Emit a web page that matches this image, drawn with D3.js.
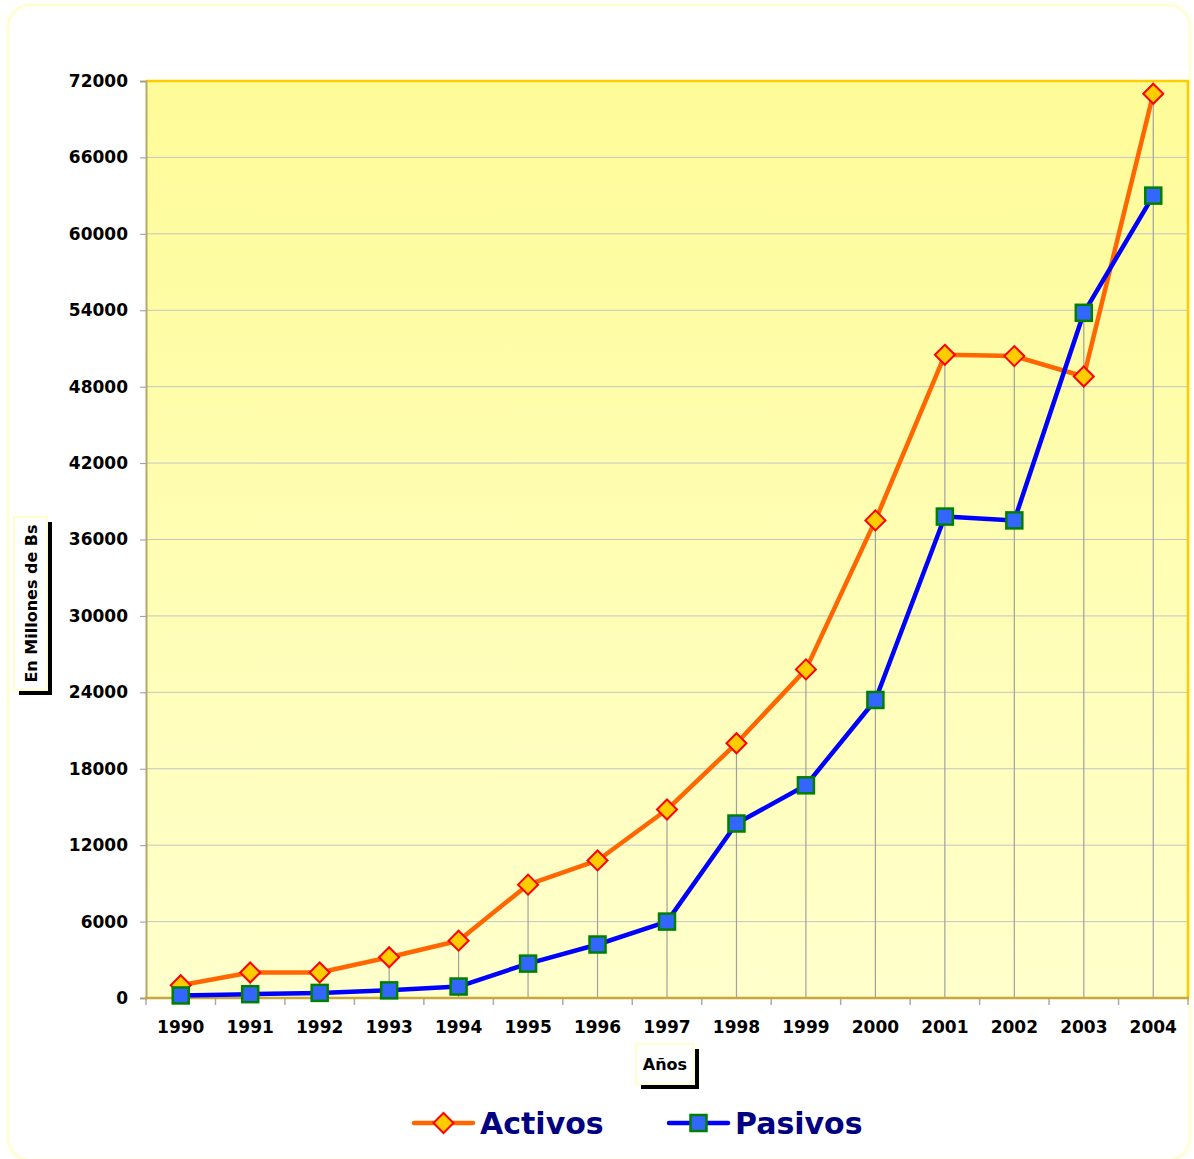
<!DOCTYPE html>
<html><head><meta charset="utf-8">
<script src="https://cdnjs.cloudflare.com/ajax/libs/d3/7.8.5/d3.min.js"></script>
<style>html,body{margin:0;padding:0;background:#fff;}svg{display:block;}</style>
</head><body>
<script>
const years = ["1990","1991","1992","1993","1994","1995","1996","1997","1998","1999","2000","2001","2002","2003","2004"];
const activos = [1000,2000,2000,3200,4500,8900,10800,14800,20000,25800,37500,50500,50400,48800,71000];
const pasivos = [200,300,400,600,900,2700,4200,6000,13700,16700,23400,37800,37500,53800,63000];
const yTicks = [0,6000,12000,18000,24000,30000,36000,42000,48000,54000,60000,66000,72000];
const seriesNames = ["Activos","Pasivos"];

const W=1194,H=1159;
const svg=d3.select("body").append("svg").attr("width",W).attr("height",H);
const font="'DejaVu Sans', Verdana, sans-serif";

// outer frame
svg.append("rect").attr("x",8).attr("y",5).attr("width",1182).attr("height",1155)
  .attr("rx",22).attr("fill","#fff").attr("stroke","#ffffcc").attr("stroke-width",2.5);

const L=146,R=1188,T=81,B=998;
const x=d3.scaleBand().domain(years).range([L,R]);
const y=d3.scaleLinear().domain([0,72000]).range([B,T]);

const defs=svg.append("defs");
const g=defs.append("linearGradient").attr("id","bg").attr("x1",0).attr("y1",0).attr("x2",0).attr("y2",1);
g.append("stop").attr("offset","0%").attr("stop-color","#fefc98");
g.append("stop").attr("offset","100%").attr("stop-color","#ffffcc");

svg.append("rect").attr("x",L).attr("y",T).attr("width",R-L).attr("height",B-T).attr("fill","url(#bg)");

// gridlines
svg.append("g").selectAll("line").data(yTicks.filter(d=>d>0)).join("line")
  .attr("x1",L).attr("x2",R).attr("y1",d=>y(d)).attr("y2",d=>y(d))
  .attr("stroke","#c4c4c4").attr("stroke-width",1);

// border top/right
svg.append("line").attr("x1",L).attr("x2",R+1).attr("y1",T).attr("y2",T).attr("stroke","#ffcc00").attr("stroke-width",2.5);
svg.append("line").attr("x1",R).attr("x2",R).attr("y1",T).attr("y2",B).attr("stroke","#ffcc00").attr("stroke-width",2.5);

// drop lines
const maxV=years.map((d,i)=>Math.max(activos[i],pasivos[i]));
svg.append("g").selectAll("line").data(years).join("line")
  .attr("x1",d=>x(d)+x.bandwidth()/2).attr("x2",d=>x(d)+x.bandwidth()/2)
  .attr("y1",(d,i)=>y(maxV[i])).attr("y2",B)
  .attr("stroke","#a0a0a0").attr("stroke-width",1.2);

// y axis
const yAxis=svg.append("g").attr("transform",`translate(${L},0)`)
  .call(d3.axisLeft(y).tickValues(yTicks).tickSize(6).tickPadding(12).tickFormat(d3.format("d")));
yAxis.select(".domain").attr("stroke","#b8a868").attr("stroke-width",2);
yAxis.selectAll(".tick line").attr("stroke","#999");
yAxis.selectAll("text").attr("font-family",font).attr("font-weight","bold").attr("font-size",17).attr("fill","#000");

// x axis
const xAxis=svg.append("g").attr("transform",`translate(0,${B})`)
  .call(d3.axisBottom(x).tickSize(0).tickPadding(23));
xAxis.select(".domain").remove();
xAxis.selectAll("text").attr("font-family",font).attr("font-weight","bold").attr("font-size",17).attr("fill","#000");
const bounds=years.map(d=>x(d)).concat([R]);
svg.append("g").selectAll("line").data(bounds).join("line")
  .attr("x1",d=>d).attr("x2",d=>d).attr("y1",B).attr("y2",B+7).attr("stroke","#aaa").attr("stroke-width",1.5);
svg.append("line").attr("x1",L-1).attr("x2",R+1).attr("y1",B).attr("y2",B).attr("stroke","#c8a838").attr("stroke-width",2.5);

const cx=d=>x(d)+x.bandwidth()/2;
const line=d3.line().x((d,i)=>cx(years[i])).y(d=>y(d));

svg.append("path").datum(activos).attr("d",line).attr("fill","none").attr("stroke","#ff6600").attr("stroke-width",4.5).attr("stroke-linejoin","round");
svg.append("path").datum(pasivos).attr("d",line).attr("fill","none").attr("stroke","#0000ff").attr("stroke-width",4.5).attr("stroke-linejoin","round");

const diamond=(s)=>`M0,${-s}L${s},0L0,${s}L${-s},0Z`;
svg.append("g").selectAll("path").data(activos).join("path")
  .attr("d",diamond(10)).attr("transform",(d,i)=>`translate(${cx(years[i])},${y(d)})`)
  .attr("fill","#ffcc00").attr("stroke","#ff0000").attr("stroke-width",2);
svg.append("g").selectAll("rect").data(pasivos).join("rect")
  .attr("x",(d,i)=>cx(years[i])-8).attr("y",d=>y(d)-8).attr("width",16).attr("height",16)
  .attr("fill","#3366ff").attr("stroke","#008000").attr("stroke-width",2.5);

// axis title boxes
function titleBox(bx,by,bw,bh,text,rot){
  svg.append("rect").attr("x",bx+5).attr("y",by+5).attr("width",bw).attr("height",bh).attr("fill","#000");
  svg.append("rect").attr("x",bx).attr("y",by).attr("width",bw).attr("height",bh).attr("fill","#fff").attr("stroke","#ffffcc").attr("stroke-width",2);
  const t=svg.append("text").attr("font-family",font).attr("font-weight","bold").attr("font-size",16)
    .attr("fill","#000").attr("text-anchor","middle").attr("dominant-baseline","central").text(text);
  if(rot) t.attr("transform",`translate(${bx+bw/2+1},${by+bh/2}) rotate(-90)`);
  else t.attr("x",bx+bw/2).attr("y",by+bh/2);
}
titleBox(14,517,33,173,"En Millones de Bs",true);
titleBox(636,1044,58,40,"Años",false);

// legend
const leg=[{name:seriesNames[0],x0:414,col:"#ff6600",type:"d"},{name:seriesNames[1],x0:669,col:"#0000ff",type:"s"}];
const ly=1123;
leg.forEach(l=>{
  svg.append("line").attr("x1",l.x0).attr("x2",l.x0+59).attr("y1",ly).attr("y2",ly).attr("stroke",l.col).attr("stroke-width",4.5).attr("stroke-linecap","round");
  const mx=l.x0+29.5;
  if(l.type==="d") svg.append("path").attr("d",diamond(10)).attr("transform",`translate(${mx},${ly})`).attr("fill","#ffcc00").attr("stroke","#ff0000").attr("stroke-width",2);
  else svg.append("rect").attr("x",mx-8).attr("y",ly-8).attr("width",16).attr("height",16).attr("fill","#3366ff").attr("stroke","#008000").attr("stroke-width",2.5);
  svg.append("text").attr("x",l.x0+66).attr("y",ly).attr("dominant-baseline","central").attr("font-family",font).attr("font-weight","bold").attr("font-size",30).attr("fill","#000080").text(l.name);
});
</script>
</body></html>
